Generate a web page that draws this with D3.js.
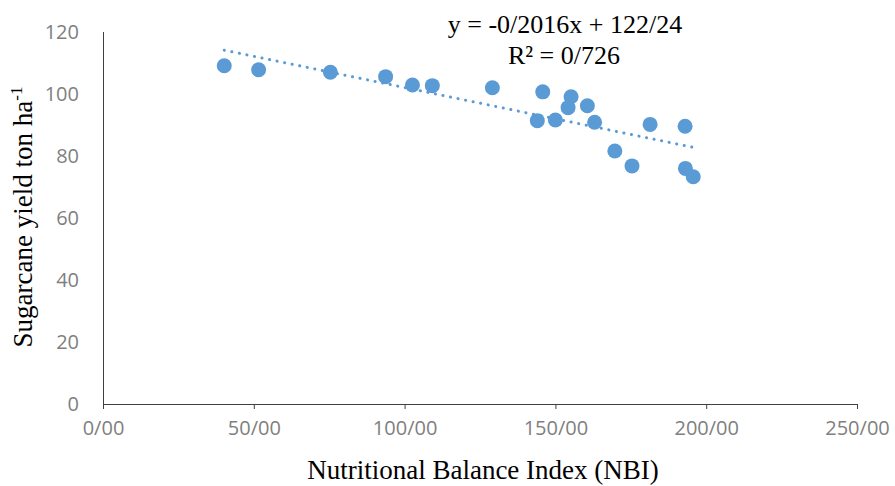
<!DOCTYPE html>
<html>
<head>
<meta charset="utf-8">
<script src="https://cdn.jsdelivr.net/npm/d3@7"></script>
<style>
  html, body { margin: 0; padding: 0; background: #fff; }
  svg { display: block; }
</style>
</head>
<body>
<svg id="chart" width="895" height="486"></svg>
<script>
// ---- data ----
const nbi   = [40.2, 51.6, 75.4, 93.7, 102.6, 109.2, 129.1, 145.8, 144.0, 150.0,
               155.2, 154.2, 160.6, 163.0, 169.7, 175.4, 181.4, 193.0, 193.1, 195.7];
const yieldT = [109.1, 107.8, 107.0, 105.6, 102.9, 102.7, 102.0, 100.7, 91.4, 91.6,
               99.1, 95.6, 96.2, 90.9, 81.6, 76.8, 90.2, 89.6, 76.0, 73.3];
const trendSlope = -0.2016;
const trendIntercept = 122.24;
const xTicks = [0, 50, 100, 150, 200, 250];
const xTickLabels = ["0/00", "50/00", "100/00", "150/00", "200/00", "250/00"];
const yTicks = [0, 20, 40, 60, 80, 100, 120];
const eqLine1 = "y = -0/2016x + 122/24";
const eqLine2 = "R² = 0/726";
const xTitle = "Nutritional Balance Index (NBI)";
const yTitle = "Sugarcane yield ton ha";
const yTitleSup = "-1";

// ---- layout ----
const svg = d3.select("#chart");
const x = d3.scaleLinear().domain([0, 250]).range([103, 857]);
const y = d3.scaleLinear().domain([0, 120]).range([404, 32]);
const tickFont = "'Open Sans', 'Liberation Sans', sans-serif";
const serif = "'Liberation Serif', 'Times New Roman', serif";
const axisColor = "#404040";
const labelColor = "#7f7f7f";
const blue = "#5B9BD5";

// x axis
const xAxis = svg.append("g")
  .attr("transform", `translate(0,${y(0)})`)
  .call(d3.axisBottom(x).tickValues(xTicks)
        .tickFormat((d, i) => xTickLabels[i]).tickSize(5).tickPadding(12));
xAxis.select(".domain").attr("stroke", axisColor).attr("d", `M${x(0)},0.5H${x(250)}`);
xAxis.selectAll(".tick line").attr("stroke", axisColor);
xAxis.selectAll(".tick text").attr("fill", labelColor)
  .style("font-family", tickFont).style("font-size", "20px");

// y axis
const yAxis = svg.append("g")
  .attr("transform", `translate(${x(0)},0)`)
  .call(d3.axisLeft(y).tickValues(yTicks).tickSize(0).tickPadding(24));
yAxis.select(".domain").attr("stroke", axisColor).attr("d", `M0.5,${y(120)}V${y(0)}`);
yAxis.selectAll(".tick text").attr("fill", labelColor)
  .style("font-family", tickFont).style("font-size", "20px");

// trend line (dotted)
const xs = d3.extent(nbi);
svg.append("line")
  .attr("x1", x(xs[0])).attr("y1", y(trendSlope * xs[0] + trendIntercept))
  .attr("x2", x(xs[1])).attr("y2", y(trendSlope * xs[1] + trendIntercept))
  .attr("stroke", blue).attr("stroke-width", 3)
  .attr("stroke-linecap", "round").attr("stroke-dasharray", "0.1 7.6");

// points
svg.append("g").selectAll("circle")
  .data(nbi.map((v, i) => [v, yieldT[i]]))
  .join("circle")
  .attr("cx", d => x(d[0])).attr("cy", d => y(d[1]))
  .attr("r", 7.5).attr("fill", blue);

// equation text
svg.append("text").attr("x", 565).attr("y", 33)
  .attr("text-anchor", "middle").style("font-family", serif).style("font-size", "26px")
  .attr("fill", "#000").text(eqLine1);
svg.append("text").attr("x", 564).attr("y", 64)
  .attr("text-anchor", "middle").style("font-family", serif).style("font-size", "26px")
  .attr("fill", "#000").text(eqLine2);

// axis titles
svg.append("text").attr("x", 483).attr("y", 479)
  .attr("text-anchor", "middle").style("font-family", serif).style("font-size", "27px")
  .attr("fill", "#000").text(xTitle);

const yt = svg.append("text")
  .attr("transform", "translate(32,217) rotate(-90)")
  .attr("text-anchor", "middle").style("font-family", serif).style("font-size", "27px")
  .attr("fill", "#000");
yt.append("tspan").text(yTitle);
yt.append("tspan").attr("dy", -10).style("font-size", "17px").text(yTitleSup);
</script>
</body>
</html>
